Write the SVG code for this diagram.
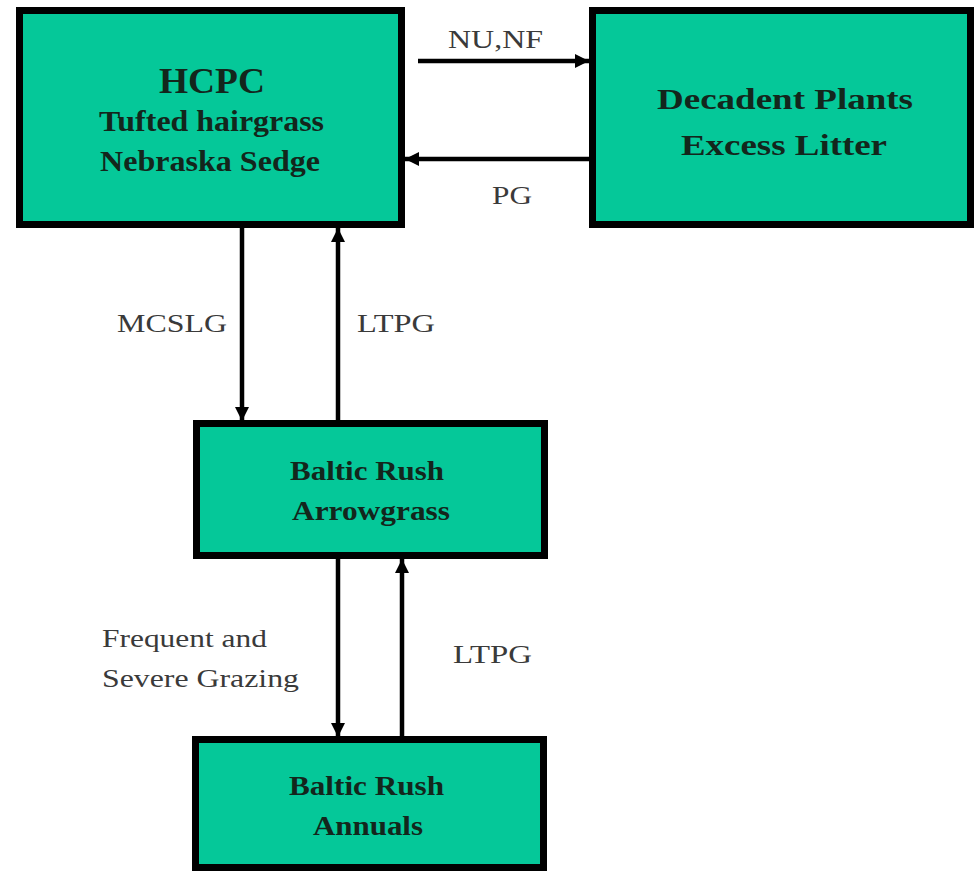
<svg xmlns="http://www.w3.org/2000/svg" width="975" height="871" viewBox="0 0 975 871">
<style>
.box{fill:#05c899;stroke:#000;stroke-width:7}
.nt{font-family:"Liberation Serif","Times New Roman",serif;font-weight:bold;fill:#13261c;text-anchor:middle}
.lb{font-family:"Liberation Serif","Times New Roman",serif;fill:#3a3a3a;font-size:26px}
.cn{stroke:#000;stroke-width:4.5;fill:none}
</style>
<defs>
<marker id="ah" markerUnits="userSpaceOnUse" markerWidth="16" markerHeight="16" refX="14" refY="7" orient="auto">
<path d="M0,0 L14,7 L0,14 z" fill="#000"/>
</marker>
</defs>
<rect width="975" height="871" fill="#fff"/>
<g id="connectors">
<line class="cn" x1="418" y1="61" x2="589" y2="61" marker-end="url(#ah)"/>
<line class="cn" x1="589" y1="159" x2="405" y2="159" marker-end="url(#ah)"/>
<line class="cn" x1="242" y1="228" x2="242" y2="421" marker-end="url(#ah)"/>
<line class="cn" x1="338" y1="421" x2="338" y2="228" marker-end="url(#ah)"/>
<line class="cn" x1="338" y1="559" x2="338" y2="737" marker-end="url(#ah)"/>
<line class="cn" x1="402" y1="737" x2="402" y2="559" marker-end="url(#ah)"/>
<text class="lb" x="448" y="48" textLength="95" lengthAdjust="spacingAndGlyphs">NU,NF</text>
<text class="lb" x="492" y="204" textLength="40" lengthAdjust="spacingAndGlyphs">PG</text>
<text class="lb" x="117" y="332" textLength="110" lengthAdjust="spacingAndGlyphs">MCSLG</text>
<text class="lb" x="357" y="332" textLength="78" lengthAdjust="spacingAndGlyphs">LTPG</text>
<text class="lb" x="102" y="647" textLength="165" lengthAdjust="spacingAndGlyphs">Frequent and</text>
<text class="lb" x="102" y="687" textLength="197" lengthAdjust="spacingAndGlyphs">Severe Grazing</text>
<text class="lb" x="453" y="663" textLength="79" lengthAdjust="spacingAndGlyphs">LTPG</text>
</g>
<g id="node-hcpc">
<rect class="box" x="19.5" y="10.5" width="382" height="214"/>
<text class="nt" x="212" y="93" font-size="36" textLength="106" lengthAdjust="spacingAndGlyphs">HCPC</text>
<text class="nt" x="211.5" y="131" font-size="29" textLength="225" lengthAdjust="spacingAndGlyphs">Tufted hairgrass</text>
<text class="nt" x="210" y="171" font-size="29" textLength="220" lengthAdjust="spacingAndGlyphs">Nebraska Sedge</text>
</g>
<g id="node-decadent">
<rect class="box" x="592.5" y="10.5" width="378" height="214"/>
<text class="nt" x="785" y="109" font-size="30" textLength="256" lengthAdjust="spacingAndGlyphs">Decadent Plants</text>
<text class="nt" x="784" y="155" font-size="30" textLength="206" lengthAdjust="spacingAndGlyphs">Excess Litter</text>
</g>
<g id="node-arrowgrass">
<rect class="box" x="196.5" y="423.5" width="348" height="132"/>
<text class="nt" x="367" y="480" font-size="27" textLength="154" lengthAdjust="spacingAndGlyphs">Baltic Rush</text>
<text class="nt" x="371" y="520" font-size="27" textLength="158" lengthAdjust="spacingAndGlyphs">Arrowgrass</text>
</g>
<g id="node-annuals">
<rect class="box" x="195.5" y="739.5" width="348" height="128"/>
<text class="nt" x="366.5" y="795" font-size="27" textLength="155" lengthAdjust="spacingAndGlyphs">Baltic Rush</text>
<text class="nt" x="368" y="835" font-size="27" textLength="110" lengthAdjust="spacingAndGlyphs">Annuals</text>
</g>
</svg>
